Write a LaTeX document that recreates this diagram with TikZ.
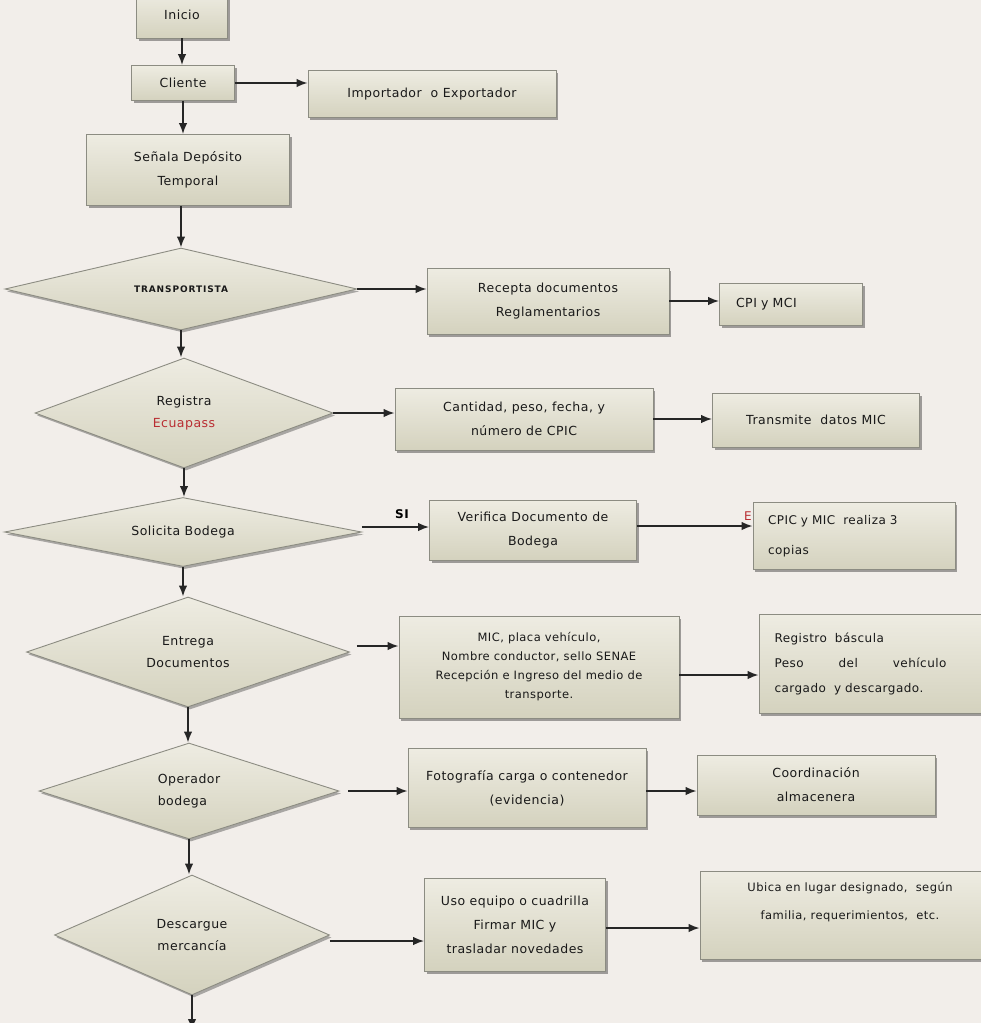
\documentclass[tikz,border=0pt]{standalone}
\usepackage{fontspec}
\setmainfont{DejaVu Sans}[LetterSpace=4.0]
\usetikzlibrary{shapes.geometric,shadows,arrows.meta}

\definecolor{papel}{RGB}{242,238,234}
\definecolor{cajaarriba}{RGB}{238,236,226}
\definecolor{cajaabajo}{RGB}{212,210,190}
\definecolor{borde}{RGB}{140,140,130}
\definecolor{rojo}{RGB}{185,45,50}

\tikzset{
  caja/.style={rectangle, draw=borde, line width=0.8pt, top color=cajaarriba, bottom color=cajaabajo,
    drop shadow={shadow xshift=2pt, shadow yshift=-2.5pt, fill=black, opacity=0.35},
    align=center, inner sep=0pt, text=black!90, font=\fontsize{12.5}{24}\selectfont},
  rombo/.style={diamond, shape aspect=3.5, draw=borde, line width=0.9pt, top color=cajaarriba, bottom color=cajaabajo,
    drop shadow={shadow xshift=2pt, shadow yshift=-2.5pt, fill=black, opacity=0.3},
    align=center, inner sep=0pt, text=black!90, font=\fontsize{12.5}{22}\selectfont},
  flecha/.style={-{Latex[length=11pt,width=8.5pt]}, line width=1.7pt, draw=black!85}
}

\begin{document}
\begin{tikzpicture}[x=1pt,y=-1pt]
\path[use as bounding box, fill=papel] (0,0) rectangle (981,1023);

% columna principal
\node[caja, minimum width=91, minimum height=46] (inicio) at (182,15) {Inicio};
\node[caja, minimum width=103, minimum height=35] (cliente) at (183,83) {Cliente};
\node[caja, minimum width=203, minimum height=71] (senala) at (188,170) {Señala Depósito\\Temporal};
\node[rombo, minimum width=352, minimum height=82, font=\fontsize{9}{10}\bfseries\addfontfeature{LetterSpace=10.0}] (trans) at (181,289) {TRANSPORTISTA};
\node[rombo, minimum width=298, minimum height=110] (registra) at (184,413) {Registra\\\textcolor{rojo}{Ecuapass}};
\node[rombo, minimum width=357, minimum height=69] (solicita) at (183,532) {Solicita Bodega};
\node[rombo, minimum width=323, minimum height=110] (entrega) at (188,652) {Entrega\\Documentos};
\node[rombo, minimum width=300, minimum height=96, align=left] (operador) at (189,791) {Operador\\bodega};
\node[rombo, minimum width=275, minimum height=120] (descargue) at (192,935) {Descargue\\mercancía};
\coordinate (fin) at (192,1030);

% segunda columna
\node[caja, minimum width=248, minimum height=47] (import) at (432,94) {Importador~ o Exportador};
\node[caja, minimum width=242, minimum height=66] (recepta) at (548,301) {Recepta documentos\\Reglamentarios};
\node[caja, minimum width=258, minimum height=62] (cantidad) at (524,419) {Cantidad, peso, fecha, y\\número de CPIC};
\node[caja, minimum width=207, minimum height=60] (verifica) at (533,530) {Verifica Documento de\\Bodega};
\node[caja, minimum width=280, minimum height=102, font=\fontsize{11.5}{19}\selectfont] (mic) at (539,667)
  {MIC, placa vehículo,\\Nombre conductor, sello SENAE\\Recepción e Ingreso del medio de\\transporte.};
\node[caja, minimum width=238, minimum height=79] (foto) at (527,788) {Fotografía carga o contenedor\\(evidencia)};
\node[caja, minimum width=181, minimum height=93] (uso) at (515,925) {Uso equipo o cuadrilla\\Firmar MIC y\\trasladar novedades};

% tercera columna
\node[caja, minimum width=143, minimum height=42, text width=110, align=left] (cpi) at (791,304) {CPI y MCI};
\node[caja, minimum width=207, minimum height=54] (transmite) at (816,420) {Transmite~ datos MIC};
\node[text=rojo, font=\fontsize{12}{12}\selectfont] (rojoe) at (748,516) {E};
\node[caja, minimum width=202, minimum height=67, text width=172, align=left, font=\fontsize{12}{30}\selectfont] (cpic) at (854,536) {CPIC y MIC~ realiza 3\\copias};
\node[caja, minimum width=236, minimum height=99, text width=205, align=left, font=\fontsize{12}{25}\selectfont] (bascula) at (877,664)
  {Registro~ báscula\\\makebox[172pt]{Peso\hfill del\hfill vehículo}\\cargado~ y descargado.};
\node[caja, minimum width=238, minimum height=60] (coord) at (816,785) {Coordinación\\almacenera};
\node[caja, minimum width=300, minimum height=88, font=\fontsize{11.5}{28}\selectfont] (ubica) at (850,915) {Ubica en lugar designado,~ según\\familia, requerimientos,~ etc.\\\mbox{}};

\node[font=\fontsize{12}{12}\bfseries] (si) at (402,514) {SI};

% flechas verticales
\draw[flecha] (inicio.south) -- (inicio.south |- cliente.north);
\draw[flecha] (cliente.south) -- (cliente.south |- senala.north);
\draw[flecha] (senala.south -| trans.north) -- (trans.north);
\draw[flecha] (trans.south) -- (trans.south |- registra.north);
\draw[flecha] (registra.south) -- (registra.south |- solicita.north);
\draw[flecha] (solicita.south) -- (solicita.south |- entrega.north);
\draw[flecha] (entrega.south) -- (entrega.south |- operador.north);
\draw[flecha] (operador.south) -- (operador.south |- descargue.north);
\draw[flecha] (descargue.south) -- (fin);

% flechas horizontales
\draw[flecha] (cliente.east) -- (cliente.east -| import.west);
\draw[flecha] (trans.east) -- (trans.east -| recepta.west);
\draw[flecha] (recepta.east) -- (recepta.east -| cpi.west);
\draw[flecha] (registra.east) -- (registra.east -| cantidad.west);
\draw[flecha] (cantidad.east) -- (cantidad.east -| transmite.west);
\draw[flecha] ([yshift=5pt]solicita.east) -- ([yshift=5pt]solicita.east -| verifica.west);
\draw[flecha] ([yshift=4pt]verifica.east) -- ([yshift=4pt]verifica.east -| cpic.west);
\draw[flecha, shorten <=7pt] ([yshift=6pt]entrega.east) -- ([yshift=6pt]entrega.east -| mic.west);
\draw[flecha] ([yshift=-8pt]mic.east) -- ([yshift=-8pt]mic.east -| bascula.west);
\draw[flecha, shorten <=9pt] (operador.east) -- (operador.east -| foto.west);
\draw[flecha] ([yshift=-3pt]foto.east) -- ([yshift=-3pt]foto.east -| coord.west);
\draw[flecha] ([yshift=-6pt]descargue.east) -- ([yshift=-6pt]descargue.east -| uso.west);
\draw[flecha] ([yshift=-3pt]uso.east) -- ([yshift=-3pt]uso.east -| ubica.west);
\end{tikzpicture}
\end{document}
